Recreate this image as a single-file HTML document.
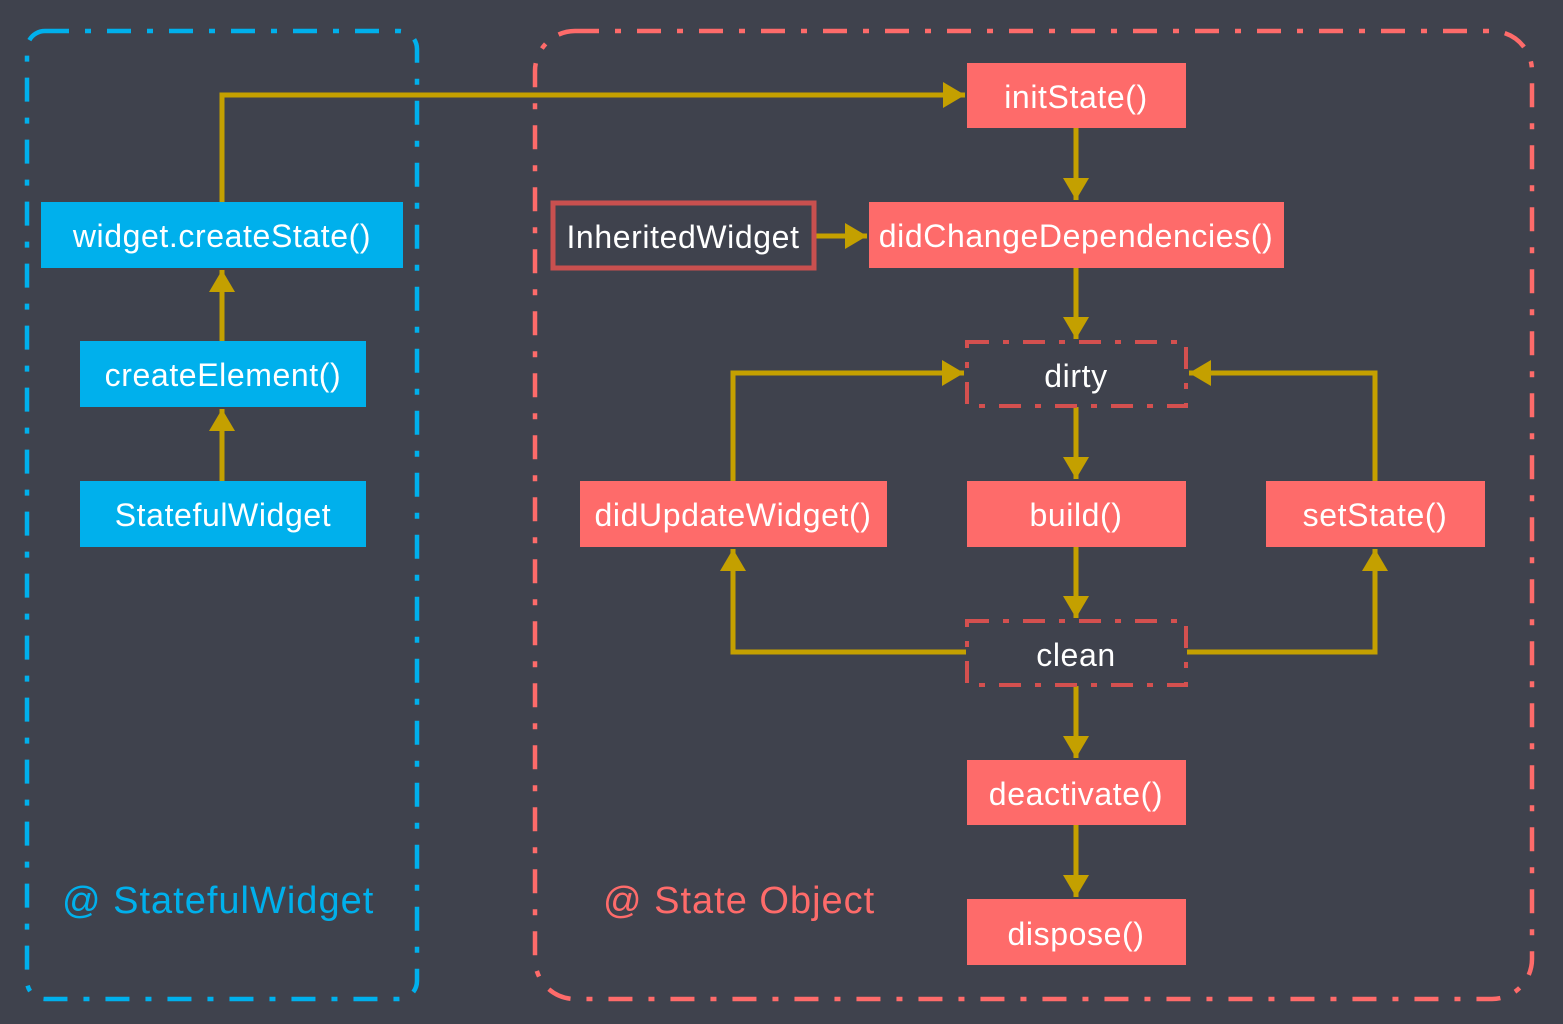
<!DOCTYPE html>
<html><head><meta charset="utf-8"><style>
html,body{margin:0;padding:0;background:#3f424d;}
svg{display:block;}
text{font-family:"Liberation Sans","DejaVu Sans",sans-serif;}
</style></head><body>
<svg width="1563" height="1024" viewBox="0 0 1563 1024" xmlns="http://www.w3.org/2000/svg">
<defs>
<marker id="a" markerUnits="userSpaceOnUse" markerWidth="24" markerHeight="26" refX="22" refY="13" orient="auto">
<polygon points="0,0 22,13 0,26" fill="#c4a000"/>
</marker>
</defs>
<rect width="1563" height="1024" fill="#3f424d"/>
<rect x="27" y="31" width="390" height="968" rx="18" fill="none" stroke="#00b0ec" stroke-width="4.5" stroke-dasharray="24 16 6 16"/>
<rect x="535" y="31" width="997" height="968" rx="40" fill="none" stroke="#fe6b6a" stroke-width="4.5" stroke-dasharray="24 16 6 16"/>

<g fill="none" stroke="#c4a000" stroke-width="5">
<polyline points="222,202 222,95 965,95" marker-end="url(#a)"/>
<line x1="222" y1="341" x2="222" y2="270" marker-end="url(#a)"/>
<line x1="222" y1="481" x2="222" y2="409" marker-end="url(#a)"/>
<line x1="1076" y1="128" x2="1076" y2="200" marker-end="url(#a)"/>
<line x1="816" y1="236" x2="867" y2="236" marker-end="url(#a)"/>
<line x1="1076" y1="268" x2="1076" y2="339" marker-end="url(#a)"/>
<line x1="1076" y1="407" x2="1076" y2="479" marker-end="url(#a)"/>
<line x1="1076" y1="547" x2="1076" y2="618" marker-end="url(#a)"/>
<line x1="1076" y1="686" x2="1076" y2="758" marker-end="url(#a)"/>
<line x1="1076" y1="825" x2="1076" y2="897" marker-end="url(#a)"/>
<polyline points="733,481 733,373 964,373" marker-end="url(#a)"/>
<polyline points="1375,481 1375,373 1189,373" marker-end="url(#a)"/>
<polyline points="966,652 733,652 733,549" marker-end="url(#a)"/>
<polyline points="1187,652 1375,652 1375,549" marker-end="url(#a)"/>
</g>

<g fill="#00b0ec">
<rect x="41" y="202" width="362" height="66"/>
<rect x="80" y="341" width="286" height="66"/>
<rect x="80" y="481" width="286" height="66"/>
</g>
<g fill="#fe6b6a">
<rect x="967" y="63" width="219" height="65"/>
<rect x="869" y="202" width="415" height="66"/>
<rect x="580" y="481" width="307" height="66"/>
<rect x="967" y="481" width="219" height="66"/>
<rect x="1266" y="481" width="219" height="66"/>
<rect x="967" y="760" width="219" height="65"/>
<rect x="967" y="899" width="219" height="66"/>
</g>
<rect x="553" y="203" width="261" height="65" fill="none" stroke="#c9504f" stroke-width="5"/>
<g fill="none" stroke="#d4504f" stroke-width="4" stroke-dasharray="22 14 6 14">
<rect x="967" y="342" width="219" height="64"/>
<rect x="967" y="621" width="219" height="64"/>
</g>

<g fill="#fff" font-size="32" text-anchor="middle" letter-spacing="0.6">
<text x="222" y="247">widget.createState()</text>
<text x="223" y="386">createElement()</text>
<text x="223" y="526">StatefulWidget</text>
<text x="1076" y="108">initState()</text>
<text x="683" y="248">InheritedWidget</text>
<text x="1076" y="247">didChangeDependencies()</text>
<text x="1076" y="387">dirty</text>
<text x="733" y="526">didUpdateWidget()</text>
<text x="1076" y="526">build()</text>
<text x="1375" y="526">setState()</text>
<text x="1076" y="666">clean</text>
<text x="1076" y="805">deactivate()</text>
<text x="1076" y="945">dispose()</text>
</g>
<text x="62" y="913" font-size="38" letter-spacing="1" fill="#00b0ec">@ StatefulWidget</text>
<text x="603" y="913" font-size="38" letter-spacing="1" fill="#fe6b6a">@ State Object</text>
</svg>
</body></html>
